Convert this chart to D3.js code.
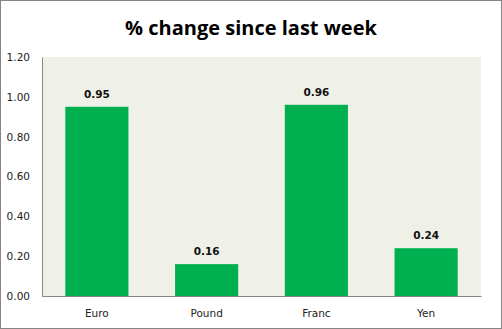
<!DOCTYPE html>
<html>
<head>
<meta charset="utf-8">
<script src="https://cdn.jsdelivr.net/npm/d3@7"></script>
<style>
  html, body { margin: 0; padding: 0; background: #fff; }
  svg { display: block; }
</style>
</head>
<body>
<script>
// Weekly percentage change per currency
const currencies = ["Euro", "Pound", "Franc", "Yen"];
const changes = [0.95, 0.16, 0.96, 0.24];
const yTicks = [0, 0.2, 0.4, 0.6, 0.8, 1.0, 1.2];

const W = 502, H = 329;
const plot = { left: 42, right: 481, top: 57, bottom: 296 };

const svg = d3.select("body").append("svg")
  .attr("width", W).attr("height", H);

// outer frame
svg.append("rect")
  .attr("x", 0.5).attr("y", 0.5)
  .attr("width", W - 1).attr("height", H - 1)
  .attr("fill", "#fff").attr("stroke", "#868686");

// plot area background
svg.append("rect")
  .attr("x", plot.left).attr("y", plot.top)
  .attr("width", plot.right - plot.left).attr("height", plot.bottom - plot.top)
  .attr("fill", "#eff1e8");

const x = d3.scaleBand()
  .domain(currencies)
  .range([plot.left, plot.right])
  .paddingInner(0.425)
  .paddingOuter(0.2125);

const y = d3.scaleLinear()
  .domain([0, 1.2])
  .range([plot.bottom, plot.top]);

svg.append("text")
  .attr("x", 251).attr("y", 35)
  .attr("text-anchor", "middle")
  .attr("font-family", "'Open Sans', sans-serif")
  .attr("font-weight", "bold")
  .attr("font-size", 20)
  .attr("fill", "#000")
  .text("% change since last week");

// bars
svg.selectAll("rect.bar")
  .data(changes)
  .enter().append("rect")
  .attr("class", "bar")
  .attr("x", (d, i) => x(currencies[i]))
  .attr("width", x.bandwidth())
  .attr("y", d => y(d))
  .attr("height", d => y(0) - y(d))
  .attr("fill", "#00b050");

// value labels
svg.selectAll("text.val")
  .data(changes)
  .enter().append("text")
  .attr("class", "val")
  .attr("x", (d, i) => x(currencies[i]) + x.bandwidth() / 2)
  .attr("y", d => y(d) - 9)
  .attr("text-anchor", "middle")
  .attr("font-family", "'DejaVu Sans', Verdana, sans-serif")
  .attr("font-weight", "bold")
  .attr("font-size", 10.5)
  .attr("fill", "#111")
  .text(d => d.toFixed(2));

// y axis
const yAxis = svg.append("g")
  .attr("transform", `translate(${plot.left},0)`)
  .call(d3.axisLeft(y).tickValues(yTicks).tickFormat(d3.format(".2f")).tickSize(0).tickPadding(12));
yAxis.select(".domain").attr("stroke", "#868686");
yAxis.selectAll("text")
  .attr("font-family", "'DejaVu Sans', Verdana, sans-serif")
  .attr("font-size", 10.5)
  .attr("fill", "#222");

// x axis
const xAxis = svg.append("g")
  .attr("transform", `translate(0,${plot.bottom})`)
  .call(d3.axisBottom(x).tickSize(0).tickPadding(13.5));
xAxis.select(".domain").attr("stroke", "#868686");
xAxis.selectAll("text")
  .attr("font-family", "'DejaVu Sans', Verdana, sans-serif")
  .attr("font-size", 10.5)
  .attr("fill", "#222");
</script>
</body>
</html>
